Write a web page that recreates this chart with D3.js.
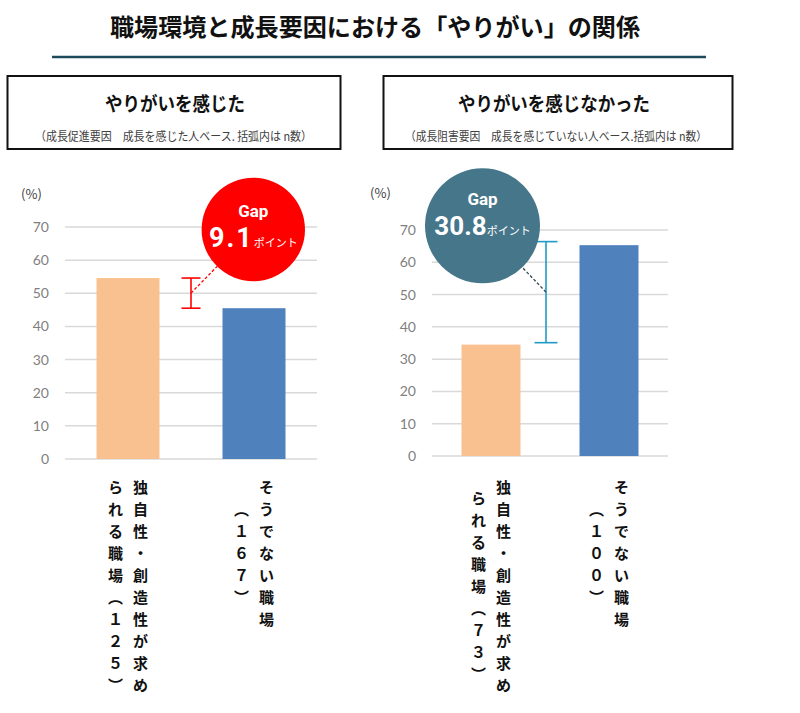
<!DOCTYPE html>
<html lang="ja">
<head>
<meta charset="utf-8">
<script src="https://cdn.jsdelivr.net/npm/d3@7"></script>
<style>
  body { margin: 0; background: #fff; }
  text { font-family: "Noto Sans CJK JP", "Noto Sans", sans-serif; }
</style>
</head>
<body>
<div id="chart"></div>
<script>
// DATA
const mainTitle = '職場環境と成長要因における「やりがい」の関係';
const panelTitles = ['やりがいを感じた', 'やりがいを感じなかった'];
const panelNotes = ['（成長促進要因　成長を感じた人ベース. 括弧内は n数）', '（成長阻害要因　成長を感じていない人ベース.括弧内は n数）'];
const categoryKeys = ['unique', 'other'];
const labelsFelt = [['独自性・創造性が求め', 'られる職場（１２５）'], ['そうでない職場', '（１６７）']];
const labelsNotFelt = [['独自性・創造性が求め', 'られる職場（７３）'], ['そうでない職場', '（１００）']];
const valuesFelt = [54.6, 45.5];
const valuesNotFelt = [34.5, 65.3];
const gapFelt = [45.5, 54.6];
const gapNotFelt = [35.1, 66.4];
const gapLabels = ['9.1', '30.8'];
const yTicks = [0, 10, 20, 30, 40, 50, 60, 70];

document.addEventListener('DOMContentLoaded', function(){
  drawChart();
});

function drawChart() {
  const width = 800;
  const height = 713;
  const barColors = ['#f9c190', '#4f81bd'];

  const svg = d3.select('#chart').append('svg')
    .attr('width', width)
    .attr('height', height);

  // TITLE
  svg.append('text')
    .attr('x', 110).attr('y', 36)
    .attr('textLength', 530).attr('lengthAdjust', 'spacingAndGlyphs')
    .style('font-size', '24px').style('font-weight', 700).style('fill', '#111')
    .text(mainTitle);
  svg.append('line')
    .attr('x1', 52).attr('x2', 706).attr('y1', 57).attr('y2', 57)
    .style('stroke', '#1d4b5b').style('stroke-width', 2.5);

  // panel layouts (positions only)
  const panels = [
    { title: panelTitles[0], note: panelNotes[0], labels: labelsFelt, values: valuesFelt, gap: gapFelt, gapText: gapLabels[0],
      box: [7.5, 76, 333, 73], titleX: 105, titleW: 140, noteX: 35, noteW: 277,
      xr: [65, 317], yr: [459, 227], pct: [31.5, 193], errDx: 0, cap: 9.5,
      errColor: '#ff0000', dashColor: '#ff0000',
      circle: { cx: 253.3, cy: 229.5, r: 51.7, fill: '#ff0000', gapDy: -13, numDy: 17, numSize: 27, spacing: 2 } },
    { title: panelTitles[1], note: panelNotes[1], labels: labelsNotFelt, values: valuesNotFelt, gap: gapNotFelt, gapText: gapLabels[1],
      box: [383.5, 76, 349, 73], titleX: 458, titleW: 192, noteX: 405, noteW: 302,
      xr: [432, 668], yr: [456, 230], pct: [380.5, 192], errDx: -4, cap: 11.5,
      errColor: '#1e9bc6', dashColor: '#34474f',
      circle: { cx: 482.5, cy: 225.8, r: 57.5, fill: '#46768a', gapDy: -21, numDy: 9, numSize: 26, spacing: 0 } }
  ];

  panels.forEach(function(p) {
    const g = svg.append('g');

    // header box
    g.append('rect')
      .attr('x', p.box[0]).attr('y', p.box[1]).attr('width', p.box[2]).attr('height', p.box[3])
      .style('fill', 'none').style('stroke', '#111').style('stroke-width', 2);
    g.append('text')
      .attr('x', p.titleX).attr('y', 111)
      .attr('textLength', p.titleW).attr('lengthAdjust', 'spacingAndGlyphs')
      .style('font-size', '19px').style('font-weight', 700).style('fill', '#111')
      .text(p.title);
    g.append('text')
      .attr('x', p.noteX).attr('y', 141)
      .attr('textLength', p.noteW).attr('lengthAdjust', 'spacingAndGlyphs')
      .style('font-size', '12px').style('fill', '#404040')
      .text(p.note);

    // scales
    const x = d3.scaleBand().domain(categoryKeys).range(p.xr).paddingInner(0.5).paddingOuter(0.25);
    const y = d3.scaleLinear().domain([0, 70]).range(p.yr);

    // gridlines
    g.selectAll('.grid')
      .data(yTicks)
      .enter().append('line')
      .attr('x1', p.xr[0]).attr('x2', p.xr[1])
      .attr('y1', d => y(d)).attr('y2', d => y(d))
      .style('stroke', '#d9d9d9').style('stroke-width', 1.5);

    // y axis
    const axis = g.append('g')
      .attr('transform', 'translate(' + p.xr[0] + ',0)')
      .call(d3.axisLeft(y).tickValues(yTicks).tickSize(0).tickPadding(16));
    axis.select('.domain').remove();
    axis.selectAll('text')
      .style('font-family', 'Lato, "Open Sans", sans-serif')
      .style('font-size', '14px').style('fill', '#7f7f7f');

    g.append('text')
      .attr('x', p.pct[0]).attr('y', p.pct[1])
      .attr('text-anchor', 'middle').attr('dominant-baseline', 'central')
      .style('font-size', '13px').style('fill', '#404040')
      .text('(%)');

    // bars
    g.selectAll('.bar')
      .data(p.values)
      .enter().append('rect')
      .attr('x', (d, i) => x(categoryKeys[i]))
      .attr('width', x.bandwidth())
      .attr('y', d => y(d))
      .attr('height', d => y(0) - y(d))
      .style('fill', (d, i) => barColors[i]);

    // vertical category labels
    p.labels.forEach(function(lines, i) {
      drawLabel(g, lines, x(categoryKeys[i]) + x.bandwidth() / 2, 486);
    });

    // gap bar
    const ex = x(categoryKeys[0]) + x.bandwidth() + (x.step() - x.bandwidth()) / 2 + p.errDx;
    const y1 = y(p.gap[0]), y2 = y(p.gap[1]);
    const eb = g.append('g').style('stroke', p.errColor).style('stroke-width', 1.6);
    eb.append('line').attr('x1', ex).attr('x2', ex).attr('y1', y1).attr('y2', y2);
    eb.append('line').attr('x1', ex - p.cap).attr('x2', ex + p.cap).attr('y1', y1).attr('y2', y1);
    eb.append('line').attr('x1', ex - p.cap).attr('x2', ex + p.cap).attr('y1', y2).attr('y2', y2);

    // connector to circle edge
    const c = p.circle;
    const my = (y1 + y2) / 2;
    const dx = ex - c.cx, dy = my - c.cy;
    const len = Math.sqrt(dx * dx + dy * dy);
    g.append('line')
      .attr('x1', ex).attr('y1', my)
      .attr('x2', c.cx + c.r * dx / len).attr('y2', c.cy + c.r * dy / len)
      .style('stroke', p.dashColor).style('stroke-width', 1.3)
      .style('stroke-dasharray', '3,2');

    // gap circle
    g.append('circle')
      .attr('cx', c.cx).attr('cy', c.cy).attr('r', c.r)
      .style('fill', c.fill);
    g.append('text')
      .attr('x', c.cx).attr('y', c.cy + c.gapDy)
      .attr('text-anchor', 'middle')
      .style('font-family', 'Roboto, sans-serif')
      .style('font-size', '17px').style('font-weight', 700).style('fill', '#fff')
      .text('Gap');
    const num = g.append('text')
      .attr('x', c.cx).attr('y', c.cy + c.numDy)
      .attr('text-anchor', 'middle')
      .style('font-family', 'Roboto, sans-serif')
      .style('fill', '#fff');
    num.append('tspan')
      .style('font-size', c.numSize + 'px').style('font-weight', 700)
      .style('letter-spacing', c.spacing + 'px')
      .text(p.gapText);
    num.append('tspan')
      .style('font-family', '"Noto Sans CJK JP", sans-serif')
      .style('font-size', '11px')
      .text('ポイント');
  });
}

// one character per cell, columns right to left, centred on the longest
function drawLabel(g, lines, cx, top) {
  const pitch = 22;
  const colGap = 25;
  const maxLen = d3.max(lines, l => Array.from(l).length);
  lines.forEach(function(line, i) {
    const chars = Array.from(line);
    const colX = cx + (lines.length - 1) / 2 * colGap - i * colGap;
    const off = (maxLen - chars.length) / 2 * pitch;
    chars.forEach(function(ch, j) {
      g.append('text')
        .attr('x', colX).attr('y', top + off + j * pitch)
        .attr('text-anchor', 'middle').attr('dominant-baseline', 'central')
        .style('font-size', '15px').style('font-weight', 700).style('fill', '#111')
        .text(ch === '（' ? '︵' : ch === '）' ? '︶' : ch);
    });
  });
}
</script>
</body>
</html>
